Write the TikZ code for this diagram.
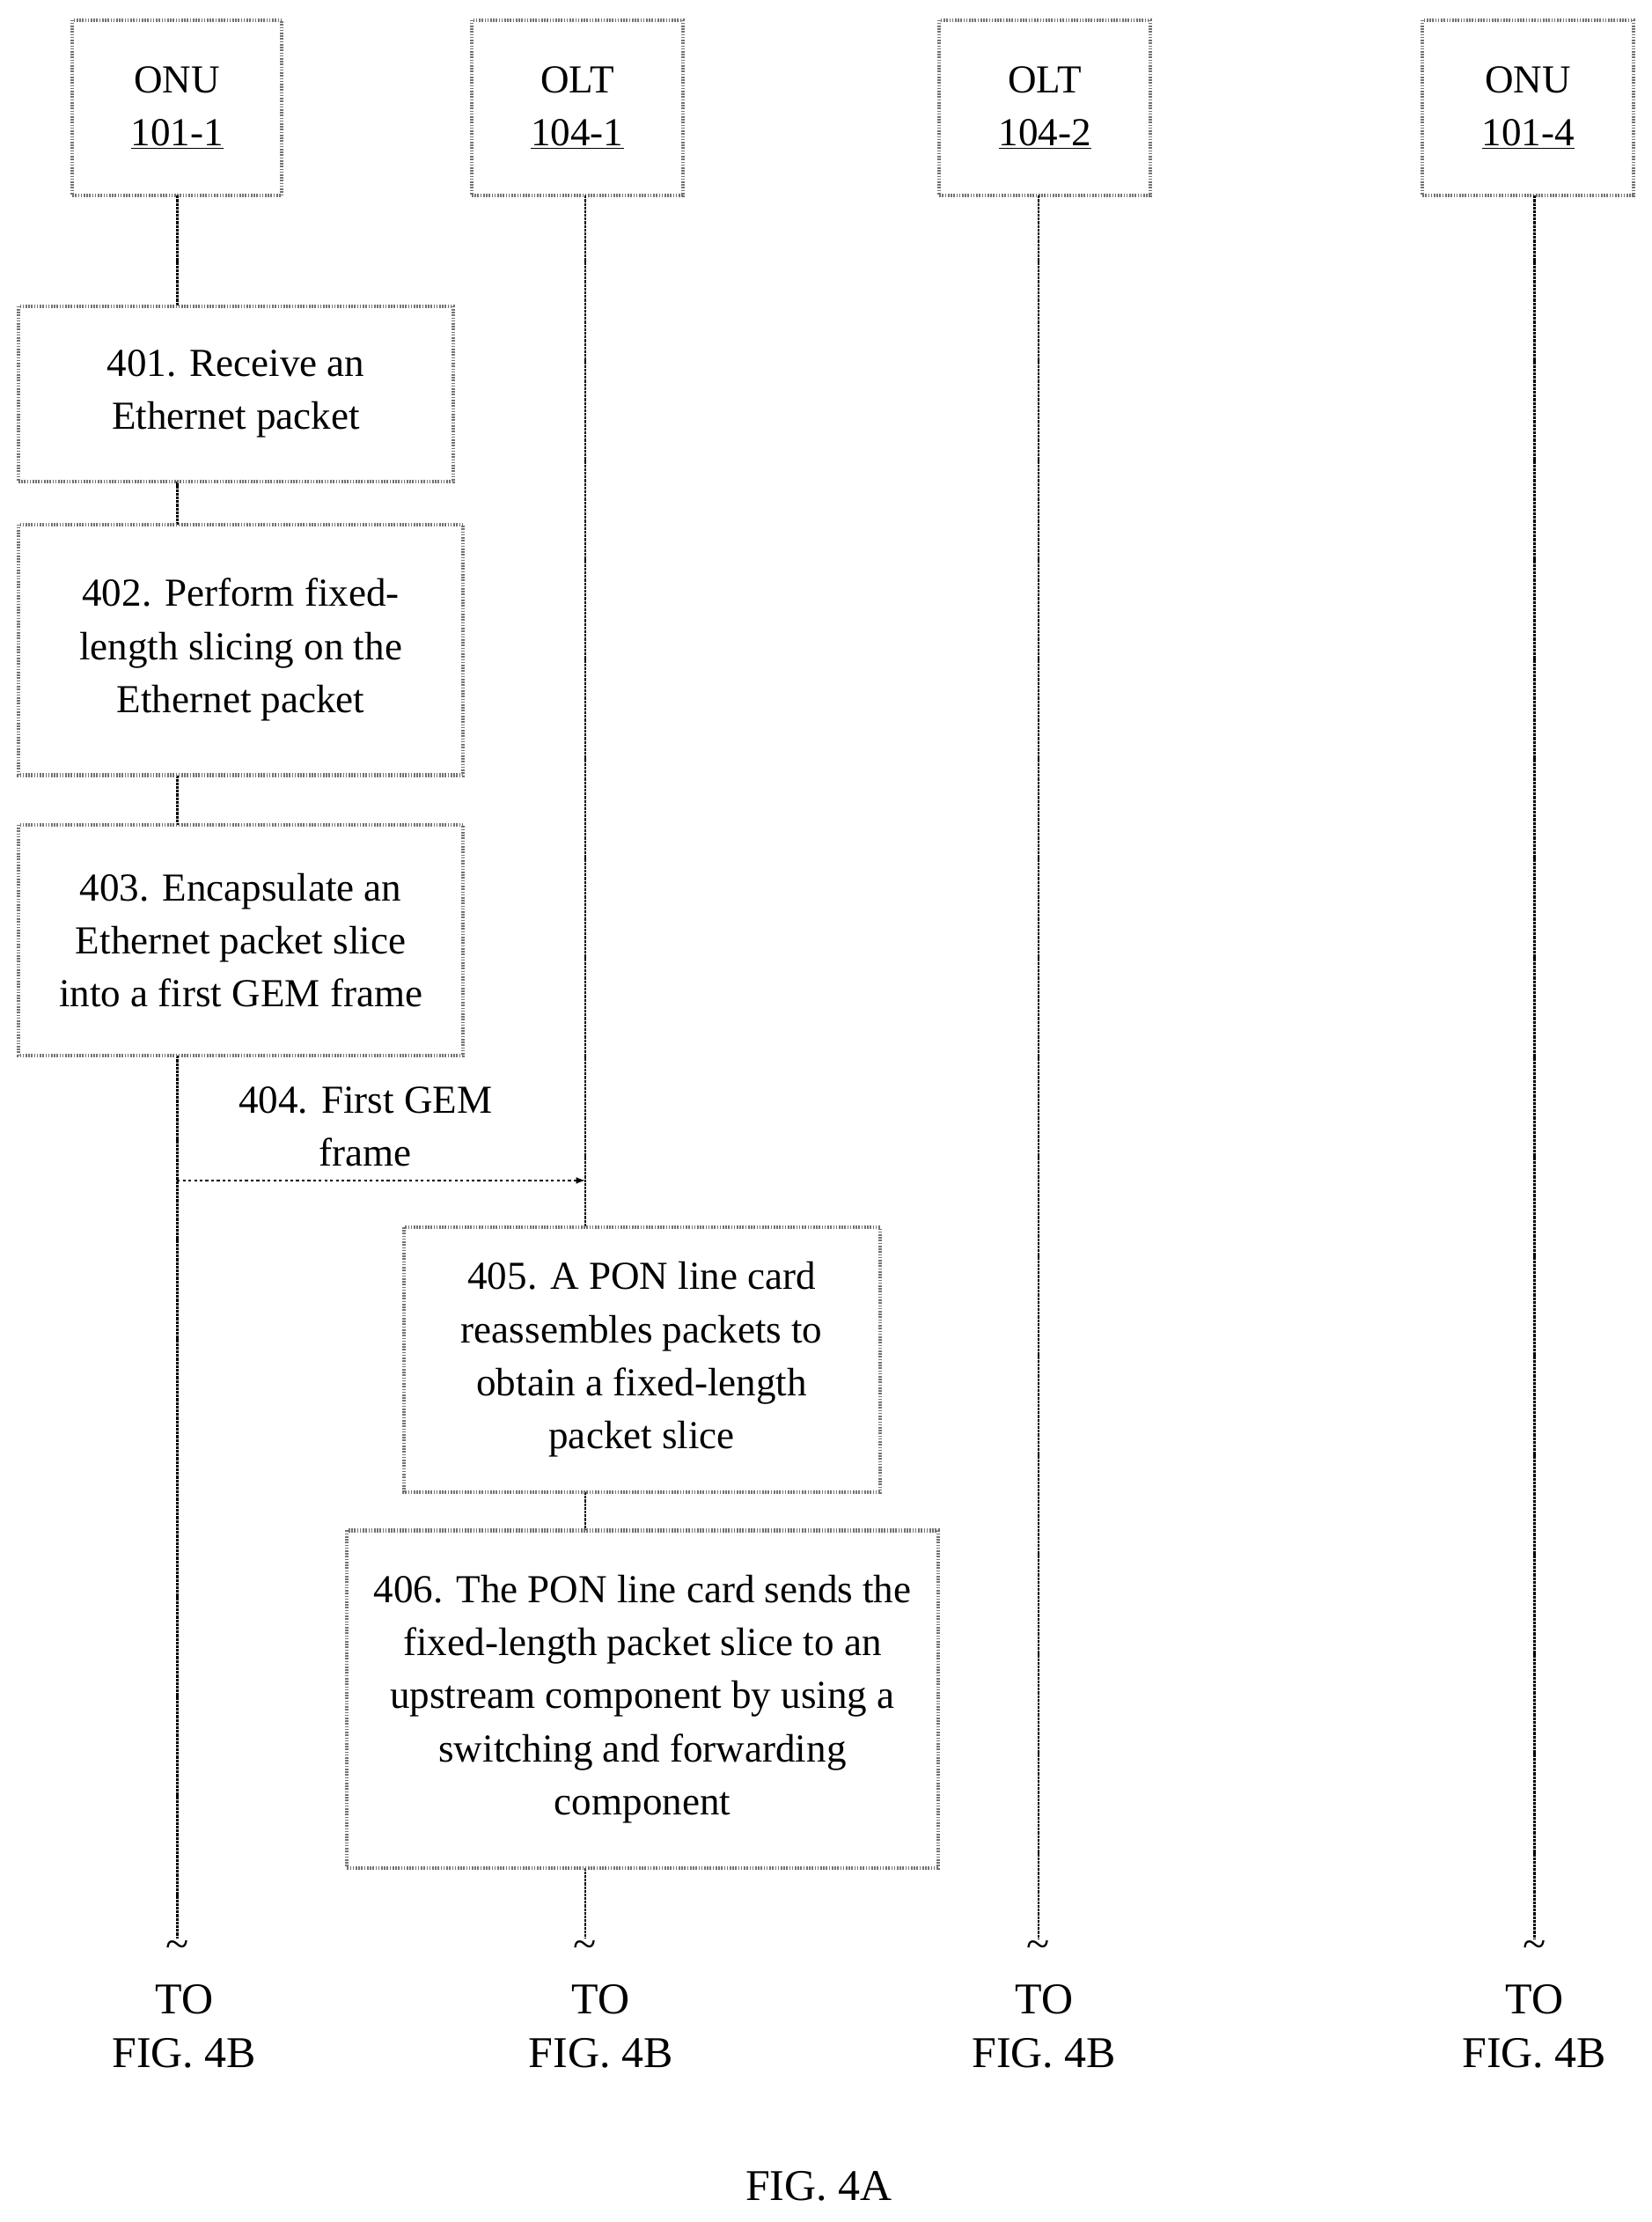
\documentclass[tikz,border=0pt]{standalone}
\usepackage{fontspec}
\setmainfont{Liberation Serif}
\begin{document}
\begin{tikzpicture}[x=1pt,y=-1pt,
  bx/.style={draw=black!55,line width=2.5pt,dash pattern=on 1pt off 1pt,inner sep=0pt},
  tx/.style={align=center,font=\fontsize{28}{37.5}\selectfont},
  ll/.style={line width=1.6pt,dash pattern=on 2pt off 0.6pt}]
\useasboundingbox (0,0) rectangle (1166,1568);
\def\bxx#1#2#3#4#5#6{\draw[bx] (#2,#3) rectangle (#4,#5); \node[tx] (#1) at ({(#2+#4)/2},{(#3+#5)/2}) {#6};}
% headers
\bxx{h1}{51}{14}{199}{138}{ONU\\\underline{101-1}}
\bxx{h2}{333}{14}{482}{138}{OLT\\\underline{104-1}}
\bxx{h3}{663}{14}{812}{138}{OLT\\\underline{104-2}}
\bxx{h4}{1004}{14}{1153}{138}{ONU\\\underline{101-4}}
% lifelines
\foreach \n/\x in {a/125,b/413,c/733,d/1083}{
  \coordinate (t\n) at (\x,138); \coordinate (e\n) at (\x,1368);
}
\draw[ll] (ta)--(125,216) (125,340)--(125,370) (125,547)--(125,582) (125,745)--(ea);
\draw[ll] (tb)--(413,866) (413,1053)--(413,1080) (413,1318)--(eb);
\draw[ll] (tc)--(ec);
\draw[ll] (td)--(ed);
\foreach \n/\x in {a/125,b/413,c/733,d/1083}{
  \node[font=\fontsize{30}{30}\selectfont,inner sep=0pt] (w\n) at (\x,1376) {\char"7E};
}
\foreach \n/\x in {a/130,b/424,c/737,d/1083}{
  \node[tx,font=\fontsize{31}{38}\selectfont] (f\n) at (\x,1430) {TO\\FIG. 4B};
}
\bxx{s401}{13}{216}{320}{340}{401. Receive an\\Ethernet packet}
\bxx{s402}{13}{370}{327}{547}{402. Perform fixed-\\length slicing on the\\Ethernet packet}
\bxx{s403}{13}{582}{327}{745}{403. Encapsulate an\\Ethernet packet slice\\into a first GEM frame}
\coordinate (a0) at (125,833); \coordinate (a1) at (413,833);
\draw[line width=1.2pt,dash pattern=on 2pt off 2pt,-latex] (a0)--(a1);
\node[tx] (l404) at (258,795) {404. First GEM\\frame};
\bxx{s405}{285}{866}{621}{1053}{405. A PON line card\\reassembles packets to\\obtain a fixed-length\\packet slice}
\bxx{s406}{245}{1080}{662}{1318}{406. The PON line card sends the\\fixed-length packet slice to an\\upstream component by using a\\switching and forwarding\\component}
\node[tx,font=\fontsize{31}{38}\selectfont] (cap) at (578,1543) {FIG. 4A};
\end{tikzpicture}
\end{document}
